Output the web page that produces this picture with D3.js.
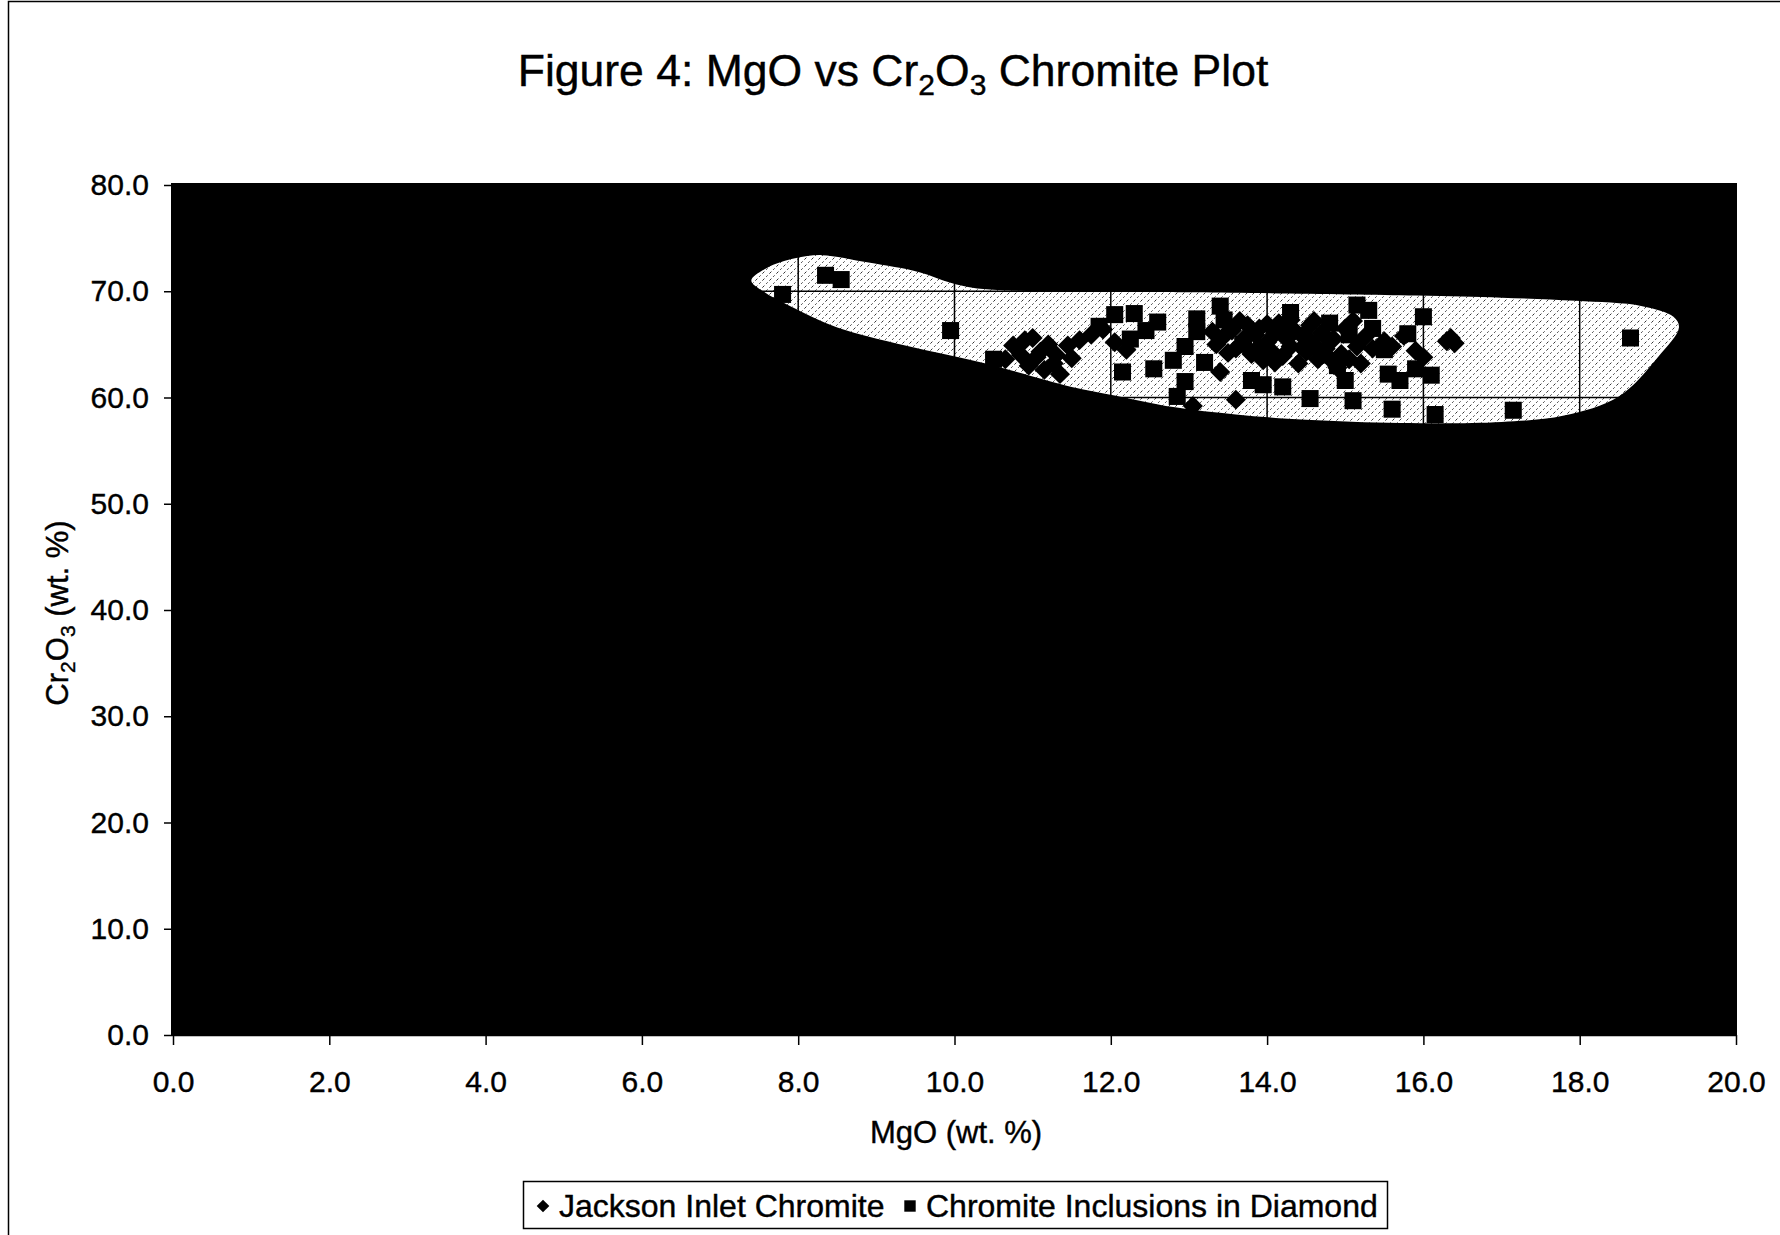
<!DOCTYPE html>
<html>
<head>
<meta charset="utf-8">
<script src="https://cdn.jsdelivr.net/npm/d3@7"></script>
<style>
  body { margin: 0; background: #fff; }
  svg text { font-family: "Liberation Sans", Arial, sans-serif; fill: #000; stroke: #000; stroke-width: 0.4px; }
</style>
</head>
<body>
<svg width="1780" height="1235"></svg>
<script>
// ---- data ----
var xTickValues = [0, 2, 4, 6, 8, 10, 12, 14, 16, 18, 20];
var yTickValues = [0, 10, 20, 30, 40, 50, 60, 70, 80];

// outline of the shaded field (MgO, Cr2O3)
var fieldOutline = [
  [7.40, 71.0], [7.60, 72.2], [7.96, 73.1], [8.30, 73.4], [8.90, 72.7], [9.55, 71.8],
  [9.95, 70.8], [10.25, 70.3], [10.60, 70.1], [12.00, 69.95], [13.10, 69.9],
  [15.90, 69.6], [17.00, 69.4], [17.95, 69.1], [18.80, 68.6], [19.20, 67.6],
  [19.27, 66.6], [19.00, 63.8], [18.50, 60.1], [17.80, 58.3], [17.00, 57.7],
  [15.70, 57.6], [14.50, 57.9], [13.60, 58.4], [12.80, 59.1], [12.05, 60.2],
  [11.50, 61.0], [10.40, 63.2], [9.37, 64.9], [8.50, 66.6], [7.90, 68.6], [7.55, 70.0]
];

// Jackson Inlet Chromite
var jacksonMgO = [10.75, 10.9, 11.0, 11.1, 11.2, 11.27, 11.35, 11.45, 11.6, 11.75, 11.9, 11.05, 11.5, 10.85, 12.05, 12.2,
  10.95, 11.15, 11.3, 10.65,
  13.05, 13.6, 13.4,
  13.35, 13.45, 13.55, 13.6, 13.7, 13.75, 13.8, 13.85, 13.9, 13.95, 14.0, 14.05, 14.1, 14.15, 14.2, 14.25, 14.3,
  14.35, 14.4, 14.45, 14.5, 14.55, 14.6, 14.65, 14.7, 14.75, 14.85, 14.9, 14.95, 15.0, 15.05, 15.15, 15.2, 15.25,
  13.5, 13.65, 14.0, 14.3, 14.6, 14.1, 14.8, 15.1, 13.9, 14.45, 14.75, 13.3, 14.2, 14.55,
  15.35, 15.5, 15.6, 15.75, 15.9, 16.0, 16.3, 16.4, 16.35];
var jacksonCr2O3 = [64.9, 65.4, 65.6, 64.3, 65.0, 63.2, 62.2, 64.9, 65.4, 65.9, 66.4, 63.8, 63.7, 64.0, 65.2, 64.5,
  63.0, 62.6, 64.0, 63.6,
  59.2, 59.8, 62.4,
  65.0, 65.8, 66.3, 64.6, 65.5, 66.8, 64.1, 65.9, 66.5, 63.5, 65.2, 64.4, 66.0, 67.0, 63.9, 65.5, 64.8,
  66.3, 63.2, 65.8, 64.3, 66.8, 65.0, 63.6, 66.1, 64.6, 65.5, 62.8, 64.1, 66.5, 63.6, 64.8, 63.2, 65.7,
  64.2, 67.2, 66.9, 67.3, 67.2, 63.3, 63.7, 67.2, 64.8, 64.7, 65.7, 66.2, 66.4, 65.4,
  64.6, 65.3, 64.8, 65.8, 64.4, 63.8, 65.3, 65.1, 65.6];

// Chromite Inclusions in Diamond
var inclusionMgO = [7.8, 8.35, 8.55, 9.95, 10.5, 11.85, 12.05, 12.3, 12.15, 12.45, 12.55, 12.6, 12.8, 12.95, 12.95,
  12.85, 13.1, 13.2, 13.1, 13.4, 13.45, 13.8, 13.95, 14.2, 14.3, 14.55, 14.8, 15.0, 15.1, 15.05, 15.15, 15.3,
  15.35, 15.55, 15.6, 15.7, 15.8, 15.9, 16.0, 16.1, 16.15, 17.15, 18.65, 12.25, 14.7, 13.7, 14.9, 15.5];
var inclusionCr2O3 = [69.7, 71.5, 71.1, 66.3, 63.6, 66.7, 67.8, 67.9, 62.4, 66.3, 62.7, 67.1, 63.5, 64.8, 61.5,
  60.1, 67.4, 63.3, 66.2, 68.6, 67.3, 61.6, 61.2, 61.0, 68.0, 59.9, 67.0, 61.6, 59.7, 65.9, 68.7, 68.2,
  66.5, 62.2, 58.9, 61.6, 66.0, 62.7, 67.6, 62.1, 58.4, 58.8, 65.6, 65.5, 64.0, 65.0, 63.0, 64.5];

var seriesNames = ["Jackson Inlet Chromite", "Chromite Inclusions in Diamond"];

// ---- chart ----
var svg = d3.select("svg"),
  plot = {left: 173, right: 1736, top: 185, bottom: 1035};

var x = d3.scaleLinear().domain([0, 20]).range([plot.left, plot.right]),
  y = d3.scaleLinear().domain([0, 80]).range([plot.bottom, plot.top]);

// chart frame (scan shows only left and top edge)
svg.append("rect")
  .attr("x", 8.5).attr("y", 1.5)
  .attr("width", 1790).attr("height", 1250)
  .attr("fill", "none").attr("stroke", "#000").attr("stroke-width", 1.5);

// stipple texture for the shaded field
var defs = svg.append("defs");
var pat = defs.append("pattern")
  .attr("id", "stipple")
  .attr("patternUnits", "userSpaceOnUse")
  .attr("width", 7).attr("height", 7);
pat.append("rect").attr("width", 7).attr("height", 7).attr("fill", "#fff");
pat.append("path")
  .attr("d", "M0,7L7,0")
  .attr("stroke", "#000").attr("stroke-width", 0.8)
  .attr("stroke-dasharray", "2,2.5");

// plot area
svg.append("rect")
  .attr("x", x(0) - 2).attr("y", y(80) - 2)
  .attr("width", x(20) - x(0) + 3).attr("height", y(0) - y(80) + 3)
  .attr("fill", "#000");

svg.append("path")
  .datum(fieldOutline)
  .attr("d", d3.line().x(d => x(d[0])).y(d => y(d[1])).curve(d3.curveCatmullRomClosed))
  .attr("fill", "url(#stipple)");

// gridlines
svg.append("g")
  .selectAll("line.h").data(yTickValues.slice(1, -1)).enter()
  .append("line")
  .attr("x1", x(0)).attr("x2", x(20))
  .attr("y1", d => y(d)).attr("y2", d => y(d))
  .attr("stroke", "#000").attr("stroke-width", 1.5);
svg.append("g")
  .selectAll("line.v").data(xTickValues.slice(1, -1)).enter()
  .append("line")
  .attr("x1", d => x(d)).attr("x2", d => x(d))
  .attr("y1", y(0)).attr("y2", y(80))
  .attr("stroke", "#000").attr("stroke-width", 1.5);

// axes
var xAxis = svg.append("g")
  .attr("transform", "translate(0," + plot.bottom + ")")
  .call(d3.axisBottom(x).tickValues(xTickValues).tickFormat(d3.format(".1f")).tickSize(10).tickSizeOuter(0).tickPadding(26));
var yAxis = svg.append("g")
  .attr("transform", "translate(" + plot.left + ",0)")
  .call(d3.axisLeft(y).tickValues(yTickValues).tickFormat(d3.format(".1f")).tickSize(9).tickSizeOuter(0).tickPadding(15));

[xAxis, yAxis].forEach(a => {
  a.select(".domain").attr("stroke", "#000").attr("stroke-width", 1.5);
  a.selectAll(".tick line").attr("stroke", "#000").attr("stroke-width", 1.5);
  a.selectAll(".tick text").style("font-size", "30px").attr("fill", "#000");
});

// markers
var square = d3.symbol().type(d3.symbolSquare).size(290);
var diamond = d3.symbol().type(d3.symbolSquare).size(200);

svg.append("g")
  .selectAll("path").data(d3.zip(inclusionMgO, inclusionCr2O3)).enter()
  .append("path")
  .attr("d", square)
  .attr("transform", d => "translate(" + x(d[0]) + "," + y(d[1]) + ")")
  .attr("fill", "#000");

svg.append("g")
  .selectAll("path").data(d3.zip(jacksonMgO, jacksonCr2O3)).enter()
  .append("path")
  .attr("d", diamond)
  .attr("transform", d => "translate(" + x(d[0]) + "," + y(d[1]) + ") rotate(45)")
  .attr("fill", "#000");

// title
var title = svg.append("text")
  .attr("x", 893).attr("y", 86)
  .attr("text-anchor", "middle")
  .style("font-size", "44.5px");
title.append("tspan").text("Figure 4: MgO vs Cr");
title.append("tspan").attr("dy", 9).style("font-size", "30px").text("2");
title.append("tspan").attr("dy", -9).text("O");
title.append("tspan").attr("dy", 9).style("font-size", "30px").text("3");
title.append("tspan").attr("dy", -9).text(" Chromite Plot");

// axis titles
svg.append("text")
  .attr("x", 956).attr("y", 1143)
  .attr("text-anchor", "middle")
  .style("font-size", "31px")
  .text("MgO (wt. %)");

var yTitle = svg.append("text")
  .attr("transform", "translate(68,613) rotate(-90)")
  .attr("text-anchor", "middle")
  .style("font-size", "31px");
yTitle.append("tspan").text("Cr");
yTitle.append("tspan").attr("dy", 7).style("font-size", "21px").text("2");
yTitle.append("tspan").attr("dy", -7).text("O");
yTitle.append("tspan").attr("dy", 7).style("font-size", "21px").text("3");
yTitle.append("tspan").attr("dy", -7).text(" (wt. %)");

// legend
var legend = svg.append("g");
legend.append("rect")
  .attr("x", 523.5).attr("y", 1181.5)
  .attr("width", 864).attr("height", 47)
  .attr("fill", "#fff").attr("stroke", "#000").attr("stroke-width", 1.5);
legend.append("path")
  .attr("d", d3.symbol().type(d3.symbolSquare).size(80))
  .attr("transform", "translate(543,1206) rotate(45)");
legend.append("text")
  .attr("x", 559).attr("y", 1217)
  .style("font-size", "32px")
  .text(seriesNames[0]);
legend.append("path")
  .attr("d", d3.symbol().type(d3.symbolSquare).size(130))
  .attr("transform", "translate(910,1206)");
legend.append("text")
  .attr("x", 926).attr("y", 1217)
  .style("font-size", "32px")
  .text(seriesNames[1]);
</script>
</body>
</html>
